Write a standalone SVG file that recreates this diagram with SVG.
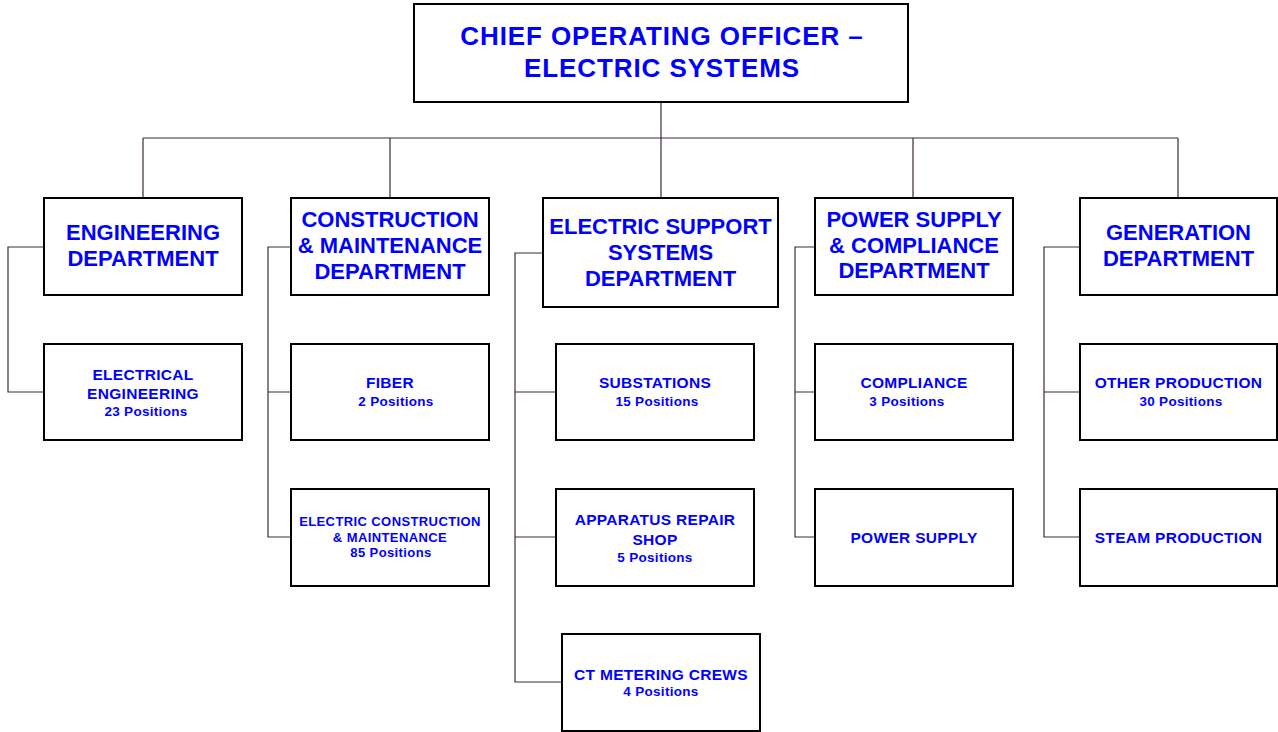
<svg xmlns="http://www.w3.org/2000/svg" width="1278" height="732" viewBox="0 0 1278 732">
<style>
.box{fill:#fff;stroke:#000;stroke-width:2}
text{font-family:"Liberation Sans",Arial,sans-serif;font-weight:bold;fill:#0000ff;text-anchor:middle}
.t0{font-size:26px;letter-spacing:0.9px}
.t1{font-size:22px}
.t2{font-size:15.5px;letter-spacing:0.3px}
.t3{font-size:13.5px;letter-spacing:0.3px}
.t4{font-size:13px;letter-spacing:0.4px}
.c{fill:none;stroke:#3c2a3c;stroke-width:1.2}
</style>
<rect width="1278" height="732" fill="#fff"/>
<g id="connectors">
<path class="c" d="M661 102V138M143 138H1178M143 138V198M390 138V198M661 138V198M913 138V198M1178 138V198"/>
<path class="c" d="M44 247H8V392H44"/>
<path class="c" d="M291 247H268V537H291M268 392H291"/>
<path class="c" d="M543 253H515V682H562M515 392H556M515 537H556"/>
<path class="c" d="M815 247H795V537H815M795 392H815"/>
<path class="c" d="M1080 247H1044V537H1080M1044 392H1080"/>
</g>
<g id="coo"><rect class="box" x="414" y="4" width="494" height="98"/><text class="t0" x="662" y="45">CHIEF OPERATING OFFICER –</text><text class="t0" x="662" y="77">ELECTRIC SYSTEMS</text></g>
<g id="eng"><rect class="box" x="44" y="198" width="198" height="97"/><text class="t1" x="143" y="240">ENGINEERING</text><text class="t1" x="143" y="266">DEPARTMENT</text></g>
<g id="cm"><rect class="box" x="291" y="198" width="198" height="97"/><text class="t1" x="390" y="227">CONSTRUCTION</text><text class="t1" x="390" y="253">&amp; MAINTENANCE</text><text class="t1" x="390" y="279">DEPARTMENT</text></g>
<g id="ess"><rect class="box" x="543" y="198" width="235" height="109"/><text class="t1" x="660.5" y="234">ELECTRIC SUPPORT</text><text class="t1" x="660.5" y="260">SYSTEMS</text><text class="t1" x="660.5" y="286">DEPARTMENT</text></g>
<g id="psc"><rect class="box" x="815" y="198" width="198" height="97"/><text class="t1" x="914" y="227">POWER SUPPLY</text><text class="t1" x="914" y="253">&amp; COMPLIANCE</text><text class="t1" x="914" y="278">DEPARTMENT</text></g>
<g id="gen"><rect class="box" x="1080" y="198" width="197" height="97"/><text class="t1" x="1178.5" y="240">GENERATION</text><text class="t1" x="1178.5" y="266">DEPARTMENT</text></g>
<g id="ee"><rect class="box" x="44" y="344" width="198" height="96"/><text class="t2" x="143" y="380">ELECTRICAL</text><text class="t2" x="143" y="399">ENGINEERING</text><text class="t3" x="146" y="416">23 Positions</text></g>
<g id="fiber"><rect class="box" x="291" y="344" width="198" height="96"/><text class="t2" x="390" y="388">FIBER</text><text class="t3" x="396" y="406">2 Positions</text></g>
<g id="ecm"><rect class="box" x="291" y="489" width="198" height="97"/><text class="t4" x="390" y="526">ELECTRIC CONSTRUCTION</text><text class="t4" x="390" y="542">&amp; MAINTENANCE</text><text class="t4" x="391" y="557">85 Positions</text></g>
<g id="sub"><rect class="box" x="556" y="344" width="198" height="96"/><text class="t2" x="655" y="388">SUBSTATIONS</text><text class="t3" x="657" y="406">15 Positions</text></g>
<g id="ars"><rect class="box" x="556" y="489" width="198" height="97"/><text class="t2" x="655" y="525">APPARATUS REPAIR</text><text class="t2" x="655" y="545">SHOP</text><text class="t3" x="655" y="562">5 Positions</text></g>
<g id="ct"><rect class="box" x="562" y="634" width="198" height="97"/><text class="t2" x="661" y="680">CT METERING CREWS</text><text class="t3" x="661" y="696">4 Positions</text></g>
<g id="comp"><rect class="box" x="815" y="344" width="198" height="96"/><text class="t2" x="914" y="388">COMPLIANCE</text><text class="t3" x="907" y="406">3 Positions</text></g>
<g id="ps"><rect class="box" x="815" y="489" width="198" height="97"/><text class="t2" x="914" y="543">POWER SUPPLY</text></g>
<g id="op"><rect class="box" x="1080" y="344" width="197" height="96"/><text class="t2" x="1178.5" y="388">OTHER PRODUCTION</text><text class="t3" x="1181" y="406">30 Positions</text></g>
<g id="sp"><rect class="box" x="1080" y="489" width="197" height="97"/><text class="t2" x="1178.5" y="543">STEAM PRODUCTION</text></g>
</svg>
